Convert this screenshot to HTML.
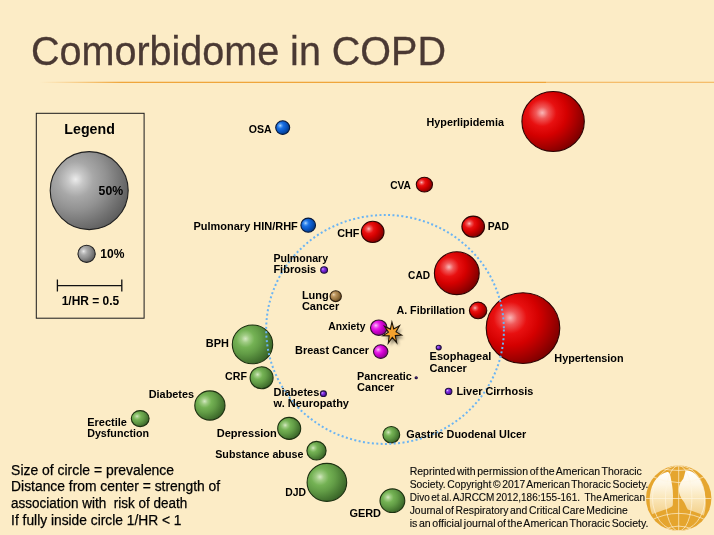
<!DOCTYPE html>
<html><head><meta charset="utf-8"><title>Comorbidome in COPD</title>
<style>
html,body{margin:0;padding:0;background:#fcecc6;}
body{width:714px;height:535px;overflow:hidden;position:relative;font-family:"Liberation Sans",sans-serif;}
svg{position:absolute;left:0;top:0;}
text{font-family:"Liberation Sans",sans-serif;white-space:pre;}
.b{font-weight:bold;fill:#000;}
.r{fill:#000;stroke:#000;stroke-width:0.25px;}
.s{fill:#0a0a0a;word-spacing:-1.3px;stroke:#0a0a0a;stroke-width:0.12px;}
</style></head><body>
<svg width="714" height="535" viewBox="0 0 714 535">
<defs>
<linearGradient id="ln" x1="0" x2="1" y1="0" y2="0"><stop offset="0" stop-color="#f3ab45" stop-opacity="0"/><stop offset="0.16" stop-color="#ee9e2c" stop-opacity="1"/><stop offset="1" stop-color="#ee9e2c" stop-opacity="1"/></linearGradient>
<filter id="sh" x="-50%" y="-50%" width="200%" height="200%"><feGaussianBlur stdDeviation="1.6"/></filter>
<radialGradient id="gred" cx="0.325" cy="0.355" r="0.75"><stop offset="0" stop-color="#f9b8b8"/><stop offset="0.13" stop-color="#f05858"/><stop offset="0.3" stop-color="#e81010"/><stop offset="0.52" stop-color="#d40000"/><stop offset="0.76" stop-color="#a40000"/><stop offset="1" stop-color="#720000"/></radialGradient>
<radialGradient id="gmag" cx="0.325" cy="0.355" r="0.75"><stop offset="0" stop-color="#fbc8fb"/><stop offset="0.13" stop-color="#f070f0"/><stop offset="0.3" stop-color="#e820e8"/><stop offset="0.52" stop-color="#d000d0"/><stop offset="0.76" stop-color="#a800a8"/><stop offset="1" stop-color="#780078"/></radialGradient>
<radialGradient id="gpur" cx="0.325" cy="0.355" r="0.75"><stop offset="0" stop-color="#dcc8fb"/><stop offset="0.13" stop-color="#a870f0"/><stop offset="0.3" stop-color="#8838e8"/><stop offset="0.52" stop-color="#7020d0"/><stop offset="0.76" stop-color="#5818a8"/><stop offset="1" stop-color="#401078"/></radialGradient>
<radialGradient id="gbrn" cx="0.325" cy="0.355" r="0.75"><stop offset="0" stop-color="#eedcc0"/><stop offset="0.13" stop-color="#d0b080"/><stop offset="0.3" stop-color="#b89058"/><stop offset="0.52" stop-color="#a07c48"/><stop offset="0.76" stop-color="#806030"/><stop offset="1" stop-color="#604420"/></radialGradient>
<radialGradient id="gblu" cx="0.325" cy="0.355" r="0.75"><stop offset="0" stop-color="#b8dafc"/><stop offset="0.13" stop-color="#58a0f4"/><stop offset="0.3" stop-color="#1a70e2"/><stop offset="0.52" stop-color="#0c5ccc"/><stop offset="0.76" stop-color="#0648a6"/><stop offset="1" stop-color="#003478"/></radialGradient>
<radialGradient id="ggrn" cx="0.325" cy="0.355" r="0.75"><stop offset="0" stop-color="#d4e8c2"/><stop offset="0.13" stop-color="#a0cc84"/><stop offset="0.3" stop-color="#74b254"/><stop offset="0.52" stop-color="#629c46"/><stop offset="0.76" stop-color="#4a7c34"/><stop offset="1" stop-color="#335c24"/></radialGradient>
<radialGradient id="ggry" cx="0.325" cy="0.355" r="0.75"><stop offset="0" stop-color="#ececec"/><stop offset="0.13" stop-color="#c8c8c8"/><stop offset="0.3" stop-color="#a8a8a8"/><stop offset="0.52" stop-color="#929292"/><stop offset="0.76" stop-color="#747474"/><stop offset="1" stop-color="#585858"/></radialGradient>
</defs>
<rect x="0" y="0" width="714" height="535" fill="#fcecc6"/>
<rect x="40" y="81.75" width="506" height="1.15" fill="url(#ln)"/>
<rect x="546" y="81.7" width="168" height="1.3" fill="#f5bd6c"/>
<text x="31.0" y="65.4" font-size="40.8" fill="#4a3933" stroke="#4a3933" stroke-width="0.3" textLength="415.0" lengthAdjust="spacingAndGlyphs">Comorbidome in COPD</text>
<rect x="36.3" y="113.3" width="107.8" height="204.9" fill="none" stroke="#1a1a1a" stroke-width="1"/>
<path d="M57.4 285.6H121.8M57.4 279.5V291.6M121.8 279.5V291.6" stroke="#111" stroke-width="1.3" fill="none"/>
<ellipse cx="553.1" cy="121.5" rx="31.2" ry="30.0" fill="url(#gred)" stroke="#2e0404" stroke-width="1.1"/>
<ellipse cx="424.4" cy="184.6" rx="8.1" ry="7.4" fill="url(#gred)" stroke="#2e0404" stroke-width="1.1"/>
<ellipse cx="473.2" cy="226.6" rx="11.3" ry="10.5" fill="url(#gred)" stroke="#2e0404" stroke-width="1.1"/>
<ellipse cx="372.7" cy="231.9" rx="11.3" ry="10.6" fill="url(#gred)" stroke="#2e0404" stroke-width="1.1"/>
<ellipse cx="456.8" cy="273.2" rx="22.4" ry="21.4" fill="url(#gred)" stroke="#2e0404" stroke-width="1.1"/>
<ellipse cx="478.1" cy="310.4" rx="8.7" ry="8.3" fill="url(#gred)" stroke="#2e0404" stroke-width="1.1"/>
<ellipse cx="523" cy="328.1" rx="36.8" ry="35.4" fill="url(#gred)" stroke="#2e0404" stroke-width="1.1"/>
<ellipse cx="378.8" cy="327.7" rx="8.3" ry="7.7" fill="url(#gmag)" stroke="#301030" stroke-width="1.1"/>
<ellipse cx="380.7" cy="351.6" rx="7.2" ry="6.8" fill="url(#gmag)" stroke="#301030" stroke-width="1.1"/>
<ellipse cx="438.7" cy="347.6" rx="2.5" ry="2.3" fill="url(#gpur)" stroke="#201040" stroke-width="1.1"/>
<ellipse cx="416.2" cy="377.7" rx="1.1" ry="1.0" fill="url(#gpur)" stroke="#201040" stroke-width="1.1"/>
<ellipse cx="448.6" cy="391.4" rx="3.3" ry="3.1" fill="url(#gpur)" stroke="#201040" stroke-width="1.1"/>
<ellipse cx="324.1" cy="270" rx="3.4" ry="3.2" fill="url(#gpur)" stroke="#201040" stroke-width="1.1"/>
<ellipse cx="323.4" cy="393.7" rx="3.0" ry="2.8" fill="url(#gpur)" stroke="#201040" stroke-width="1.1"/>
<ellipse cx="335.7" cy="296.2" rx="5.65" ry="5.4" fill="url(#gbrn)" stroke="#302010" stroke-width="1.1"/>
<ellipse cx="282.7" cy="127.6" rx="7.0" ry="6.8" fill="url(#gblu)" stroke="#081838" stroke-width="1.1"/>
<ellipse cx="308.2" cy="225.2" rx="7.3" ry="7.1" fill="url(#gblu)" stroke="#081838" stroke-width="1.1"/>
<ellipse cx="252.5" cy="344.4" rx="20.2" ry="19.4" fill="url(#ggrn)" stroke="#1c3010" stroke-width="1.1"/>
<ellipse cx="261.6" cy="377.7" rx="11.5" ry="11.0" fill="url(#ggrn)" stroke="#1c3010" stroke-width="1.1"/>
<ellipse cx="209.9" cy="405.5" rx="15.1" ry="14.6" fill="url(#ggrn)" stroke="#1c3010" stroke-width="1.1"/>
<ellipse cx="140.2" cy="418.6" rx="8.9" ry="8.0" fill="url(#ggrn)" stroke="#1c3010" stroke-width="1.1"/>
<ellipse cx="289.2" cy="428.4" rx="11.5" ry="11.0" fill="url(#ggrn)" stroke="#1c3010" stroke-width="1.1"/>
<ellipse cx="316.5" cy="450.7" rx="9.6" ry="9.3" fill="url(#ggrn)" stroke="#1c3010" stroke-width="1.1"/>
<ellipse cx="326.9" cy="482.4" rx="19.8" ry="19.0" fill="url(#ggrn)" stroke="#1c3010" stroke-width="1.1"/>
<ellipse cx="392.4" cy="500.7" rx="12.4" ry="11.8" fill="url(#ggrn)" stroke="#1c3010" stroke-width="1.1"/>
<ellipse cx="391.3" cy="434.7" rx="8.4" ry="8.2" fill="url(#ggrn)" stroke="#1c3010" stroke-width="1.1"/>
<ellipse cx="89.2" cy="190.6" rx="39" ry="39" fill="url(#ggry)" stroke="#202020" stroke-width="1.1"/>
<ellipse cx="86.6" cy="253.8" rx="8.6" ry="8.6" fill="url(#ggry)" stroke="#202020" stroke-width="1.1"/>
<ellipse cx="385.05" cy="329.45" rx="118.85" ry="114.45" fill="none" stroke="#6ab4f4" stroke-width="2" stroke-dasharray="2 2.42"/>
<polygon points="391.9,322.0 393.8,329.0 399.5,325.8 396.0,331.9 401.6,335.1 395.3,335.6 396.7,342.7 392.3,337.4 388.3,343.1 389.2,335.9 382.9,335.8 388.4,332.2 384.5,326.4 390.4,329.1" fill="#000" opacity="0.5" filter="url(#sh)" transform="translate(2.2,3)"/>
<polygon points="391.9,322.0 393.8,329.0 399.5,325.8 396.0,331.9 401.6,335.1 395.3,335.6 396.7,342.7 392.3,337.4 388.3,343.1 389.2,335.9 382.9,335.8 388.4,332.2 384.5,326.4 390.4,329.1" fill="#f6a32e" stroke="#1c1408" stroke-width="1.1" stroke-linejoin="miter" stroke-miterlimit="10"/>
<text class="b" x="89.6" y="134" text-anchor="middle" font-size="14.2">Legend</text>
<text class="b" x="98.6" y="195.4" font-size="12" textLength="24.5" lengthAdjust="spacingAndGlyphs">50%</text>
<text class="b" x="100.3" y="257.6" font-size="12" textLength="24.1" lengthAdjust="spacingAndGlyphs">10%</text>
<text class="b" x="61.7" y="304.9" font-size="12" textLength="57.5" lengthAdjust="spacingAndGlyphs">1/HR = 0.5</text>
<text class="b" x="248.7" y="133.0" font-size="11" textLength="22.9" lengthAdjust="spacingAndGlyphs">OSA</text>
<text class="b" x="426.5" y="125.6" font-size="11" textLength="77.4" lengthAdjust="spacingAndGlyphs">Hyperlipidemia</text>
<text class="b" x="390.2" y="188.9" font-size="11" textLength="20.8" lengthAdjust="spacingAndGlyphs">CVA</text>
<text class="b" x="193.5" y="229.6" font-size="11" textLength="104.3" lengthAdjust="spacingAndGlyphs">Pulmonary HIN/RHF</text>
<text class="b" x="337.2" y="237.3" font-size="11" textLength="22.2" lengthAdjust="spacingAndGlyphs">CHF</text>
<text class="b" x="487.8" y="230.3" font-size="11" textLength="21.2" lengthAdjust="spacingAndGlyphs">PAD</text>
<text class="b" x="273.4" y="261.5" font-size="11" textLength="54.7" lengthAdjust="spacingAndGlyphs">Pulmonary</text>
<text class="b" x="273.4" y="272.9" font-size="11">Fibrosis</text>
<text class="b" x="301.9" y="298.8" font-size="11">Lung</text>
<text class="b" x="301.9" y="310.4" font-size="11">Cancer</text>
<text class="b" x="328.2" y="330.4" font-size="11" textLength="37.3" lengthAdjust="spacingAndGlyphs">Anxiety</text>
<text class="b" x="295.1" y="353.6" font-size="11" textLength="74.0" lengthAdjust="spacingAndGlyphs">Breast Cancer</text>
<text class="b" x="408.1" y="278.9" font-size="11" textLength="21.9" lengthAdjust="spacingAndGlyphs">CAD</text>
<text class="b" x="396.4" y="313.5" font-size="11" textLength="68.6" lengthAdjust="spacingAndGlyphs">A. Fibrillation</text>
<text class="b" x="554.3" y="362.1" font-size="11" textLength="69.3" lengthAdjust="spacingAndGlyphs">Hypertension</text>
<text class="b" x="429.6" y="360.4" font-size="11">Esophageal</text>
<text class="b" x="429.6" y="372.0" font-size="11">Cancer</text>
<text class="b" x="456.4" y="394.6" font-size="11" textLength="76.9" lengthAdjust="spacingAndGlyphs">Liver Cirrhosis</text>
<text class="b" x="357.1" y="379.9" font-size="11" textLength="54.8" lengthAdjust="spacingAndGlyphs">Pancreatic</text>
<text class="b" x="357.1" y="390.8" font-size="11">Cancer</text>
<text class="b" x="406.2" y="438.3" font-size="11" textLength="120.0" lengthAdjust="spacingAndGlyphs">Gastric Duodenal Ulcer</text>
<text class="b" x="349.4" y="516.7" font-size="11" textLength="31.6" lengthAdjust="spacingAndGlyphs">GERD</text>
<text class="b" x="205.8" y="346.9" font-size="11" textLength="23.1" lengthAdjust="spacingAndGlyphs">BPH</text>
<text class="b" x="225.1" y="380.1" font-size="11" textLength="21.9" lengthAdjust="spacingAndGlyphs">CRF</text>
<text class="b" x="148.7" y="397.9" font-size="11" textLength="45.4" lengthAdjust="spacingAndGlyphs">Diabetes</text>
<text class="b" x="87.2" y="425.5" font-size="11" textLength="39.8" lengthAdjust="spacingAndGlyphs">Erectile</text>
<text class="b" x="87.2" y="437.0" font-size="11" textLength="61.8" lengthAdjust="spacingAndGlyphs">Dysfunction</text>
<text class="b" x="216.7" y="437.0" font-size="11" textLength="60.2" lengthAdjust="spacingAndGlyphs">Depression</text>
<text class="b" x="215.2" y="457.7" font-size="11" textLength="88.2" lengthAdjust="spacingAndGlyphs">Substance abuse</text>
<text class="b" x="285.2" y="495.9" font-size="11" textLength="20.8" lengthAdjust="spacingAndGlyphs">DJD</text>
<text class="b" x="273.5" y="396.1" font-size="11">Diabetes</text>
<text class="b" x="273.6" y="407.2" font-size="11">w. Neuropathy</text>
<text class="r" x="11.1" y="475.0" font-size="14" textLength="163.0" lengthAdjust="spacingAndGlyphs">Size of circle = prevalence</text>
<text class="r" x="11.1" y="491.1" font-size="14" textLength="209.0" lengthAdjust="spacingAndGlyphs">Distance from center = strength of</text>
<text class="r" x="11.1" y="507.8" font-size="14" textLength="176.1" lengthAdjust="spacingAndGlyphs">association with  risk of death</text>
<text class="r" x="11.1" y="524.7" font-size="14" textLength="170.4" lengthAdjust="spacingAndGlyphs">If fully inside circle 1/HR &lt; 1</text>
<text class="s" x="409.7" y="474.8" font-size="10.6" textLength="232.2" lengthAdjust="spacingAndGlyphs">Reprinted with permission of the American Thoracic</text>
<text class="s" x="409.7" y="488.0" font-size="10.6" textLength="238.8" lengthAdjust="spacingAndGlyphs">Society. Copyright © 2017 American Thoracic Society.</text>
<text class="s" x="409.7" y="501.2" font-size="10.6" textLength="235.3" lengthAdjust="spacingAndGlyphs">Divo et al. AJRCCM 2012,186:155-161.   The American</text>
<text class="s" x="409.7" y="513.9" font-size="10.6" textLength="218.1" lengthAdjust="spacingAndGlyphs">Journal of Respiratory and Critical Care Medicine</text>
<text class="s" x="409.7" y="526.7" font-size="10.6" textLength="238.8" lengthAdjust="spacingAndGlyphs">is an official journal of the American Thoracic Society.</text>
<defs><clipPath id="gc"><circle cx="678.7" cy="498.3" r="32.7"/></clipPath><linearGradient id="lg" gradientUnits="userSpaceOnUse" x1="0" y1="471.3" x2="0" y2="515.3"><stop offset="0" stop-color="#ffffff"/><stop offset="0.3" stop-color="#fef6e4"/><stop offset="0.62" stop-color="#fae6b8"/><stop offset="1" stop-color="#f3cf88"/></linearGradient></defs>
<circle cx="678.7" cy="498.3" r="32.7" fill="#e5a52e"/>
<path d="M 666.5 472.2 C 668.6 471.1 669.9 473.5 670.6 476.7 C 671.5 482.6 673.0 487.9 673.0 495.7 L 672.8 505.1 C 672.5 507.2 670.2 507.5 668.2 508.5 C 663.6 510.1 657.1 512.1 652.1 514.3 C 648.6 506.2 648.6 491.8 653.8 482.6 C 657.1 476.7 662.3 473.2 666.5 472.2 Z" fill="url(#lg)"/>
<path d="M 686.1 470.6 C 684.8 471.6 684.8 475.4 683.3 478.7 C 681.3 481.3 678.8 484.6 678.8 489.2 C 678.8 494.4 681.3 498.3 683.3 500.9 C 685.2 503.6 686.1 506.8 687.8 509.6 C 692.4 511.1 699.0 513.4 703.7 515.6 C 706.8 507.5 706.5 493.1 700.9 481.3 C 698.3 476.1 693.7 471.9 689.8 470.9 C 688.5 470.5 687.2 470.2 686.1 470.6 Z" fill="url(#lg)"/>
<g clip-path="url(#gc)" fill="none" stroke="#fff6e0" stroke-width="0.65">
<path d="M678.7 465.6V531.0 M646.0 498.5H711.4000000000001"/>
<ellipse cx="678.7" cy="498.3" rx="13.2" ry="32.7"/>
<ellipse cx="678.7" cy="498.3" rx="26.2" ry="32.7"/>
<path d="M649.2 475.4 Q678.7 489.8 708.1 475.4"/>
<path d="M661.0 468.5 Q678.7 472.4 696.3 468.5"/>
<path d="M649.2 521.2 Q678.7 505.5 708.1 521.2"/>
<path d="M663.6 529.7 Q678.7 522.5 693.7 529.7"/>
</g>
</svg>
</body></html>
